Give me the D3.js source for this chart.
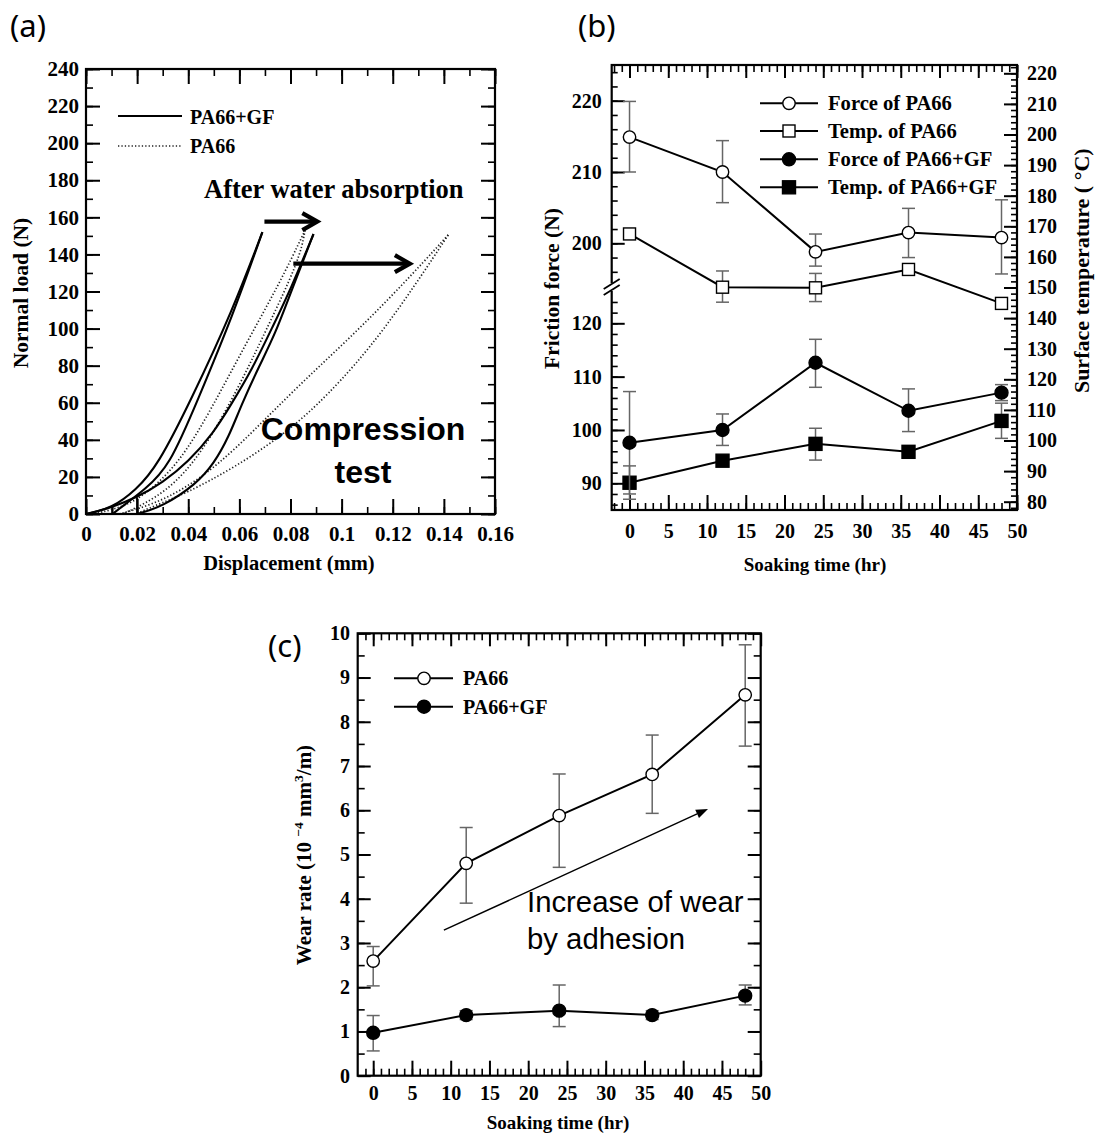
<!DOCTYPE html>
<html><head><meta charset="utf-8">
<script src="https://cdn.jsdelivr.net/npm/d3@7"></script>
<style>body{margin:0;background:#fff}svg{display:block}</style>
</head><body>
<svg id="chart" width="1098" height="1138"></svg>
<script>
// ================= DATA =================
// Panel (a): compression test, displacement (mm) vs normal load (N)
const dispTicks  = [0,0.02,0.04,0.06,0.08,0.1,0.12,0.14,0.16];
const dispLabels = ["0","0.02","0.04","0.06","0.08","0.1","0.12","0.14","0.16"];
const loadTicks  = [0,20,40,60,80,100,120,140,160,180,200,220,240];
const gfBeforeLoad   = [[0,0],[0.01,3],[0.0196,13],[0.028,26],[0.0411,61.5],[0.0574,110],[0.069,152]];
const gfBeforeUnload = [[0.069,152],[0.0574,107],[0.0437,61.5],[0.0326,25.5],[0.0228,13],[0.015,5],[0.0104,0]];
const gfAfterLoad    = [[0,0],[0.01,3.5],[0.02,9],[0.03,17],[0.04,28],[0.05,44],[0.0563,58],[0.065,78],[0.073,101],[0.08,121],[0.089,151]];
const gfAfterUnload  = [[0.089,151],[0.0808,122],[0.074,97],[0.0678,80],[0.0605,58],[0.056,42],[0.05,27],[0.043,16],[0.03,4],[0.02,0]];
const gfStep1 = [[0.02,0],[0.02,9]];
const gfStep2 = [[0.0104,0],[0.0104,4]];
const paBeforeLoad   = [[0.002,0],[0.01,2],[0.021,7.5],[0.0365,27],[0.0496,58],[0.0626,92],[0.0756,124],[0.0857,153]];
const paBeforeUnload = [[0.0857,153],[0.0835,137],[0.0704,99],[0.06,69],[0.0456,33],[0.0313,11],[0.0143,0]];
const paAfterLoad    = [[0.013,0],[0.026,5],[0.039,14],[0.052,27],[0.065,44],[0.0837,70],[0.1033,95],[0.1228,122],[0.1417,150.5]];
const paAfterUnload  = [[0.1417,150.5],[0.1163,97.5],[0.094,63],[0.078,43.5],[0.0587,25.5],[0.039,11],[0.026,4],[0.0196,0]];
const arrowA1 = [[0.0698,157.7],[0.0905,157.7]];
const arrowA2 = [[0.0811,135],[0.1267,135]];

// Panel (b): friction force (N) and surface temperature (°C) vs soaking time (hr)
const soakTicks = [0,5,10,15,20,25,30,35,40,45,50];
const soakTimes = [0,12,24,36,48];
const forcePA66   = [214.9,210.0,198.8,201.5,200.8];
const forcePA66Lo = [210.0,205.7,196.8,198.0,195.7];
const forcePA66Hi = [219.9,214.4,201.3,204.9,206.1];
const tempPA66    = [167.5,150.1,149.9,155.9,144.8];
const tempPA66Lo  = [166.5,145.2,145.4,154.4,143.3];
const tempPA66Hi  = [168.5,155.4,154.6,157.4,146.3];
const forceGF     = [97.6,100.0,112.6,103.6,107.0];
const forceGFLo   = [88.0,97.1,108.0,99.7,105.5];
const forceGFHi   = [107.2,103.0,117.0,107.7,108.5];
const tempGF      = [86.2,93.4,98.9,96.3,106.4];
const tempGFLo    = [80.8,92.2,93.6,95.3,100.7];
const tempGFHi    = [91.7,94.6,104.0,97.3,112.2];
const forceUpTicks = [200,210,220];
const forceLoTicks = [90,100,110,120];
const tempTicks = [80,90,100,110,120,130,140,150,160,170,180,190,200,210,220];
const legendB = ["Force of PA66","Temp. of PA66","Force of PA66+GF","Temp. of PA66+GF"];

// Panel (c): wear rate (10^-4 mm^3/m) vs soaking time (hr)
const wearTicks = [0,1,2,3,4,5,6,7,8,9,10];
const wearPA66   = [2.59,4.80,5.88,6.81,8.61];
const wearPA66Lo = [2.03,3.90,4.71,5.93,7.45];
const wearPA66Hi = [2.92,5.61,6.82,7.70,9.74];
const wearGF     = [0.97,1.37,1.47,1.37,1.81];
const wearGFLo   = [0.56,1.27,1.11,1.27,1.60];
const wearGFHi   = [1.36,1.47,2.05,1.47,2.05];
const arrowC = [[9.12,3.29],[43.2,6.03]];

// ================= DRAWING =================
const SERIF = "'Liberation Serif','Times New Roman',serif";
const SANS = "'Liberation Sans',Arial,sans-serif";
const svg = d3.select("#chart");
const ERR = "#666";

function axis(g, gen, scale, vals, len, pos, fmt, fs, pad, sw){
  const a = gen(scale).tickValues(vals).tickSizeInner(-len).tickSizeOuter(0)
    .tickPadding(pad||3).tickFormat(fmt || (() => ""));
  const s = g.append("g").attr("transform", pos).call(a)
    .attr("font-size", fs||10).attr("font-family", SERIF).attr("font-weight","bold");
  s.select(".domain").remove();
  s.selectAll(".tick line").attr("stroke","#000").attr("stroke-width", sw||1.6);
  s.selectAll(".tick text").attr("fill","#000");
  return s;
}
function frame(g, x0, y0, x1, y1){
  g.append("rect").attr("x",x0).attr("y",y0).attr("width",x1-x0).attr("height",y1-y0)
    .attr("fill","none").attr("stroke","#000").attr("stroke-width",2.2);
}
function txt(g, x, y, s, fs, opts={}){
  return g.append("text").attr("x",x).attr("y",y).text(s)
    .attr("font-family", opts.family||SERIF).attr("font-weight", opts.weight||"bold")
    .attr("font-size", fs).attr("text-anchor", opts.anchor||"start").attr("fill","#000");
}
function marker(g, type, cx, cy){
  const filled = type==="fc" || type==="fs";
  if (type==="oc" || type==="fc"){
    g.append("circle").attr("cx",cx).attr("cy",cy).attr("r", filled?6.5:6.2)
      .attr("fill", filled?"#000":"#fff").attr("stroke","#000").attr("stroke-width",1.4);
  } else {
    const s = filled?13:12;
    g.append("rect").attr("x",cx-s/2).attr("y",cy-s/2).attr("width",s).attr("height",s)
      .attr("fill", filled?"#000":"#fff").attr("stroke","#000").attr("stroke-width",1.4);
  }
}
function series(g, xs, ys, lo, hi, xs_, ys_, type){
  const pts = xs.map((x,i)=>[xs_(x), ys_(ys[i])]);
  g.append("path").attr("d", d3.line()(pts)).attr("fill","none").attr("stroke","#000").attr("stroke-width",2);
  xs.forEach((x,i)=>{
    const px = xs_(x), y1 = ys_(lo[i]), y2 = ys_(hi[i]);
    g.append("line").attr("x1",px).attr("x2",px).attr("y1",y1).attr("y2",y2).attr("stroke",ERR).attr("stroke-width",1.5);
    [y1,y2].forEach(yy=>g.append("line").attr("x1",px-6.5).attr("x2",px+6.5).attr("y1",yy).attr("y2",yy).attr("stroke",ERR).attr("stroke-width",1.5));
  });
  pts.forEach(p=>marker(g, type, p[0], p[1]));
}

// ---------- Panel (a) ----------
{
  const g = svg.append("g");
  const L=86, R=495, T=69, B=514;
  const x = d3.scaleLinear([0,0.16],[L,R]);
  const y = d3.scaleLinear([0,240],[B,T]);
  const dispMinor = d3.range(0,0.1601,0.01);
  const loadMinor = d3.range(0,241,10);
  axis(g, d3.axisBottom, x, dispMinor, 7, `translate(0,${B})`);
  axis(g, d3.axisBottom, x, dispTicks, 15, `translate(0,${B})`, (d,i)=>dispLabels[i], 21, 11.8, 2);
  axis(g, d3.axisTop, x, dispMinor, 7, `translate(0,${T})`);
  axis(g, d3.axisTop, x, dispTicks, 15, `translate(0,${T})`, null, 10, 3, 2);
  axis(g, d3.axisLeft, y, loadMinor, 7, `translate(${L},0)`);
  axis(g, d3.axisLeft, y, loadTicks, 14, `translate(${L},0)`, d=>d, 21, 7, 2);
  axis(g, d3.axisRight, y, loadMinor, 7, `translate(${R},0)`);
  axis(g, d3.axisRight, y, loadTicks, 14, `translate(${R},0)`, null, 10, 3, 2);

  const ln = d3.line().x(d=>x(d[0])).y(d=>y(d[1])).curve(d3.curveBasis);
  const lnStraight = d3.line().x(d=>x(d[0])).y(d=>y(d[1]));
  const solid = [gfBeforeLoad, gfBeforeUnload, gfAfterLoad, gfAfterUnload];
  const dotted = [paBeforeLoad, paBeforeUnload, paAfterLoad, paAfterUnload];
  dotted.forEach(c=>g.append("path").attr("d", ln(c)).attr("fill","none").attr("stroke","#222")
     .attr("stroke-width",1.7).attr("stroke-dasharray","1.3 2.1"));
  solid.forEach(c=>g.append("path").attr("d", ln(c)).attr("fill","none").attr("stroke","#000").attr("stroke-width",2.1));
  [gfStep1, gfStep2].forEach(c=>g.append("path").attr("d", lnStraight(c)).attr("fill","none").attr("stroke","#000").attr("stroke-width",2));
  frame(g, L, T, R, B);

  // legend
  g.append("line").attr("x1",118).attr("x2",182).attr("y1",116).attr("y2",116).attr("stroke","#000").attr("stroke-width",2.1);
  txt(g, 190, 123.5, "PA66+GF", 20);
  g.append("line").attr("x1",118).attr("x2",182).attr("y1",146).attr("y2",146).attr("stroke","#222")
    .attr("stroke-width",1.7).attr("stroke-dasharray","1.3 2.1");
  txt(g, 190, 152.7, "PA66", 20);

  txt(g, 204, 198.3, "After water absorption", 26.5);
  [arrowA1, arrowA2].forEach(a=>{
    const x1=x(a[0][0]), x2=x(a[1][0]), yy=y(a[0][1]);
    g.append("line").attr("x1",x1).attr("x2",x2-2).attr("y1",yy).attr("y2",yy).attr("stroke","#000").attr("stroke-width",4.2);
    g.append("path").attr("d",`M${x2-15},${yy-8.5}L${x2},${yy}L${x2-15},${yy+8.5}`)
      .attr("fill","none").attr("stroke","#000").attr("stroke-width",4.2).attr("stroke-linejoin","miter");
  });
  txt(g, 363, 440, "Compression", 32, {family:SANS, anchor:"middle"});
  txt(g, 363, 483, "test", 32, {family:SANS, anchor:"middle"});

  txt(g, 289, 570, "Displacement (mm)", 20.5, {anchor:"middle"});
  txt(g, 0, 0, "Normal load (N)", 21.5, {anchor:"middle"}).attr("transform","translate(28,293) rotate(-90)");
  txt(g, 10, 37, "(a)", 31, {family:"'Noto Sans',sans-serif", weight:"normal"});
}

// ---------- Panel (b) ----------
{
  const g = svg.append("g");
  const L=611.7, R=1017, T=65, B=510, BRK=287;
  const x = d3.scaleLinear([-2.3,50],[L,R]);
  const yUp = d3.scaleLinear([200,220],[243.3,100.7]);
  const yLo = d3.scaleLinear([90,120],[483.3,323.3]);
  const yR = d3.scaleLinear([80,220],[501.7,73.3]);
  const soakMinor = d3.range(-2,51,1);
  axis(g, d3.axisBottom, x, soakMinor, 7, `translate(0,${B})`);
  axis(g, d3.axisBottom, x, soakTicks, 15, `translate(0,${B})`, d=>d, 20, 14, 2);
  axis(g, d3.axisTop, x, soakMinor, 7, `translate(0,${T})`);
  axis(g, d3.axisTop, x, soakTicks, 13, `translate(0,${T})`, null, 10, 3, 2);
  const upMinor = d3.range(194,226,2).filter(v=>yUp(v)>T+2 && yUp(v)<BRK-5);
  const loMinor = d3.range(84,128,2).filter(v=>yLo(v)<B-2 && yLo(v)>BRK+5);
  axis(g, d3.axisLeft, yUp, upMinor, 6, `translate(${L},0)`);
  axis(g, d3.axisLeft, yUp, forceUpTicks, 13, `translate(${L},0)`, d=>d, 20, 10, 2);
  axis(g, d3.axisLeft, yLo, loMinor, 6, `translate(${L},0)`);
  axis(g, d3.axisLeft, yLo, forceLoTicks, 13, `translate(${L},0)`, d=>d, 20, 10, 2);
  const tMinor = d3.range(78,224,2).filter(v=>yR(v)>T+2 && yR(v)<B-2);
  axis(g, d3.axisRight, yR, tMinor, 6, `translate(${R},0)`);
  axis(g, d3.axisRight, yR, tempTicks, 13, `translate(${R},0)`, d=>d, 20, 10, 2);

  series(g, soakTimes, tempPA66, tempPA66Lo, tempPA66Hi, x, yR, "os");
  series(g, soakTimes, forcePA66, forcePA66Lo, forcePA66Hi, x, yUp, "oc");
  series(g, soakTimes, tempGF, tempGFLo, tempGFHi, x, yR, "fs");
  series(g, soakTimes, forceGF, forceGFLo, forceGFHi, x, yLo, "fc");
  frame(g, L, T, R, B);

  // axis break
  g.append("rect").attr("x",L-3).attr("y",BRK-4).attr("width",6).attr("height",8).attr("fill","#fff");
  [-3,3].forEach(o=>g.append("line").attr("x1",L-8).attr("y1",BRK+o+5).attr("x2",L+8).attr("y2",BRK+o-5)
    .attr("stroke","#000").attr("stroke-width",1.8));

  // legend
  const types = ["oc","os","fc","fs"], rows=[103.3,131,159.3,187.3];
  legendB.forEach((s,i)=>{
    g.append("line").attr("x1",760).attr("x2",818).attr("y1",rows[i]).attr("y2",rows[i]).attr("stroke","#000").attr("stroke-width",2);
    marker(g, types[i], 789, rows[i]);
    txt(g, 828, rows[i]+6.8, s, 20.6);
  });

  txt(g, 815, 571, "Soaking time (hr)", 19, {anchor:"middle"});
  txt(g, 0, 0, "Friction force (N)", 21.5, {anchor:"middle"}).attr("transform","translate(559,288.5) rotate(-90)");
  txt(g, 0, 0, "Surface temperature ( °C)", 22, {anchor:"middle"}).attr("transform","translate(1089,270.7) rotate(-90)");
  txt(g, 578, 37, "(b)", 31, {family:"'Noto Sans',sans-serif", weight:"normal"});
}

// ---------- Panel (c) ----------
{
  const g = svg.append("g");
  const L=357.7, R=760.7, T=633.3, B=1075.7;
  const x = d3.scaleLinear([-2,50],[L,R]);
  const y = d3.scaleLinear([0,10],[B,T]);
  const soakMinor = d3.range(-1,51,1);
  const wearMinor = d3.range(0,10.01,0.5);
  axis(g, d3.axisBottom, x, soakMinor, 7, `translate(0,${B})`);
  axis(g, d3.axisBottom, x, soakTicks, 15, `translate(0,${B})`, d=>d, 20, 10, 2);
  axis(g, d3.axisTop, x, soakMinor, 7, `translate(0,${T})`);
  axis(g, d3.axisTop, x, soakTicks, 13, `translate(0,${T})`, null, 10, 3, 2);
  axis(g, d3.axisLeft, y, wearMinor, 7, `translate(${L},0)`);
  axis(g, d3.axisLeft, y, wearTicks, 13, `translate(${L},0)`, d=>d, 20, 7.7, 2);
  axis(g, d3.axisRight, y, wearMinor, 7, `translate(${R},0)`);
  axis(g, d3.axisRight, y, wearTicks, 13, `translate(${R},0)`, null, 10, 3, 2);

  series(g, soakTimes, wearPA66, wearPA66Lo, wearPA66Hi, x, y, "oc");
  series(g, soakTimes, wearGF, wearGFLo, wearGFHi, x, y, "fc");
  frame(g, L, T, R, B);

  // legend
  [["oc","PA66",678.3],["fc","PA66+GF",706.7]].forEach(([t,s,yy])=>{
    g.append("line").attr("x1",394).attr("x2",453).attr("y1",yy).attr("y2",yy).attr("stroke","#000").attr("stroke-width",2);
    marker(g, t, 424, yy);
    txt(g, 463, yy+6.8, s, 20);
  });

  // annotation arrow
  const ax1=x(arrowC[0][0]), ay1=y(arrowC[0][1]), ax2=x(arrowC[1][0]), ay2=y(arrowC[1][1]);
  const ang = Math.atan2(ay2-ay1, ax2-ax1), hl=12, hw=4.5;
  const bx = ax2 - hl*Math.cos(ang), by = ay2 - hl*Math.sin(ang);
  g.append("line").attr("x1",ax1).attr("y1",ay1).attr("x2",bx).attr("y2",by).attr("stroke","#000").attr("stroke-width",1.5);
  g.append("path").attr("d",`M${ax2},${ay2}L${bx+hw*Math.sin(ang)},${by-hw*Math.cos(ang)}L${bx-hw*Math.sin(ang)},${by+hw*Math.cos(ang)}Z`).attr("fill","#000");
  txt(g, 527, 911.7, "Increase of wear", 29.3, {family:SANS, weight:"normal"});
  txt(g, 527, 948.5, "by adhesion", 29.3, {family:SANS, weight:"normal"});

  txt(g, 558, 1129, "Soaking time (hr)", 19, {anchor:"middle"});
  const yt = txt(g, 0, 0, "", 21, {anchor:"middle"}).attr("transform","translate(311,855) rotate(-90)");
  yt.append("tspan").text("Wear rate (10 ");
  yt.append("tspan").text("\u22124").attr("font-size",13.5).attr("dy",-8);
  yt.append("tspan").text(" mm").attr("dy",8);
  yt.append("tspan").text("3").attr("font-size",13.5).attr("dy",-8);
  yt.append("tspan").text("/m)").attr("dy",8);
  txt(g, 268, 657, "(c)", 31, {family:"'Noto Sans',sans-serif", weight:"normal"});
}
</script>
</body></html>
